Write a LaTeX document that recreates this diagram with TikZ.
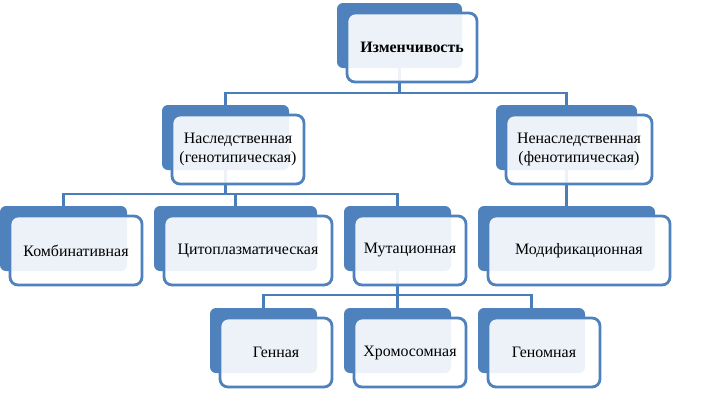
\documentclass[tikz,border=0pt]{standalone}
\usepackage{fontspec}
\setmainfont{Liberation Serif}
\usetikzlibrary{positioning}
\pgfdeclarelayer{background}
\pgfsetlayers{background,main}
\definecolor{boxblue}{HTML}{4F81BD}
\definecolor{lineblue}{HTML}{4A7EBB}
\tikzset{
  backbox/.style={fill=boxblue, rounded corners=6pt, inner sep=0pt, outer sep=0pt,
    minimum height=65pt, anchor=north west},
  frontbox/.style={draw=boxblue, line width=2.8pt, fill=white, fill opacity=0.9,
    text opacity=1, rounded corners=8pt, inner sep=0pt, outer sep=0pt,
    minimum height=69pt, align=center, font=\fontsize{15.9}{18.5}\selectfont},
  link/.style={draw=lineblue, line width=2.8pt}
}
\begin{document}
\begin{tikzpicture}[x=1pt, y=-1pt]
\useasboundingbox (0,0) rectangle (727,416);
% boxes: name / left / top / width / text
\foreach \nm/\xx/\yy/\ww/\txt in {
  izm/337/3/125/{\textbf{Изменчивость}},
  nasl/162/105/127/{Наследственная\\(генотипическая)},
  nenasl/496/105/141/{Ненаследственная\\(фенотипическая)},
  komb/0/206/127/{Комбинативная},
  cito/154/206/163/{Цитоплазматическая},
  mut/344/206/107/{Мутационная},
  mod/478/206/177/{Модификационная},
  gen/210/308/107/{Генная},
  hrom/344/308/107/{Хромосомная},
  genom/478/308/107/{Геномная}}
{
  \node[backbox, minimum width=\ww pt] (\nm) at (\xx,\yy) {};
  \node[frontbox, minimum width={(\ww+5)*1pt}, below right=10pt and 10pt of \nm.north west] (\nm-t) {\txt};
}
\begin{pgfonlayer}{background}
\draw[link] (izm.south) -- ++(0,25) -| (nasl.north);
\draw[link] (izm.south) -- ++(0,25) -| (nenasl.north);
\draw[link] (nasl.south) -- ++(0,24) -| (komb.north);
\draw[link] (nasl.south) -- ++(0,24) -| (cito.north);
\draw[link] (nasl.south) -- ++(0,24) -| (mut.north);
\draw[link] (nenasl.south) -- (mod.north);
\draw[link] (mut.south) -- ++(0,24) -| (gen.north);
\draw[link] (mut.south) -- ++(0,24) -| (hrom.north);
\draw[link] (mut.south) -- ++(0,24) -| (genom.north);
\end{pgfonlayer}
\end{tikzpicture}
\end{document}
